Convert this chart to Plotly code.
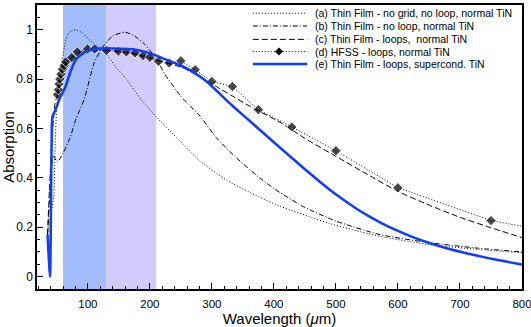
'''
absorption vs wavelength for thin film / HFSS models
'''
import plotly.graph_objects as go

# shaded bands (um)
band_blue = [60, 130]
band_purple = [130, 210]

# (a) thin film - no grid, no loop, normal TiN
wl_a = [35, 40, 45, 47, 49.5, 51, 56.5, 64.5, 70, 80, 91, 105, 118, 130, 145, 162,
        185, 211, 243, 280, 324, 370, 410, 490, 571, 650, 730, 800]
abs_a = [0.17, 0.25, 0.32, 0.5, 0.68, 0.72, 0.838, 0.96, 0.99, 1.0, 0.987, 0.953, 0.93, 0.9, 0.85, 0.8,
         0.72, 0.645, 0.563, 0.47, 0.39, 0.33, 0.285, 0.215, 0.163, 0.13, 0.11, 0.097]

# (b) thin film - no loop, normal TiN
wl_b = [35, 38, 41, 44, 47, 51, 60, 71, 81, 94, 110, 124, 140, 160, 175, 192, 211, 224,
        250, 281, 307, 340, 377, 410, 450, 500, 571, 652, 730, 800]
abs_b = [0.17, 0.3, 0.42, 0.49, 0.48, 0.463, 0.5, 0.56, 0.64, 0.717, 0.865, 0.93, 0.975, 0.99, 0.975, 0.94, 0.88, 0.82,
         0.73, 0.65, 0.563, 0.48, 0.4, 0.34, 0.28, 0.225, 0.17, 0.137, 0.115, 0.1]

# (c) thin film - loops, normal TiN
wl_c = [35, 38, 41, 44, 47, 51, 55, 60, 65, 75, 85, 100, 120, 140, 160, 180, 200, 220,
        253, 280, 307, 334, 361, 410, 450, 500, 550, 600, 650, 700, 750, 800]
abs_c = [0.17, 0.35, 0.5, 0.62, 0.7, 0.74, 0.79, 0.84, 0.866, 0.89, 0.905, 0.915, 0.918, 0.915, 0.908, 0.898, 0.885, 0.87,
         0.846, 0.81, 0.77, 0.73, 0.69, 0.625, 0.56, 0.487, 0.415, 0.345, 0.29, 0.24, 0.198, 0.158]

# (d) HFSS - loops, normal TiN
wl_d = [51, 52.5, 53.5, 54.8, 56.5, 59, 61.8, 64.5, 74, 83, 99.5, 111, 130, 149, 162, 176, 189, 200,
        214, 231, 250, 273, 300, 333, 375, 429, 500, 600, 750, 800]
abs_d = [0.737, 0.757, 0.78, 0.8, 0.82, 0.84, 0.855, 0.87, 0.887, 0.91, 0.922, 0.922, 0.916, 0.913, 0.91, 0.906, 0.895, 0.888,
         0.872, 0.865, 0.874, 0.838, 0.79, 0.77, 0.676, 0.606, 0.51, 0.36, 0.227, 0.204]

# (e) thin film - loops, superconducting TiN
wl_e = [35, 39, 42, 43, 48, 54, 64, 72, 81, 97, 113, 130, 150, 175, 200, 220, 250, 265,
        289, 334, 377, 410, 450, 490, 511, 530, 550, 571, 600, 624, 652, 680, 710, 740, 770, 800]
abs_e = [0.17, 0.0, 0.62, 0.65, 0.676, 0.717, 0.77, 0.83, 0.88, 0.912, 0.922, 0.925, 0.923, 0.92, 0.905, 0.885, 0.855, 0.835,
         0.795, 0.69, 0.595, 0.522, 0.435, 0.352, 0.313, 0.28, 0.249, 0.22, 0.185, 0.16, 0.135, 0.114, 0.095, 0.078, 0.063, 0.049]

labels = ['(a) Thin Film - no grid, no loop, normal TiN',
          '(b) Thin Film - no loop, normal TiN',
          '(c) Thin Film - loops,  normal TiN',
          '(d) HFSS - loops, normal TiN',
          '(e) Thin Film - loops, supercond. TiN']

styles = [dict(color='black', width=1, dash='1px,2px'),
          dict(color='black', width=1, dash='5px,2px,1px,2px'),
          dict(color='black', width=1, dash='6px,3px'),
          dict(color='black', width=1, dash='1px,2px'),
          dict(color='#0f3cff', width=2.5)]

fig = go.Figure()
for wl, ab, style in [(wl_a, abs_a, styles[0]), (wl_b, abs_b, styles[1]), (wl_c, abs_c, styles[2])]:
    fig.add_trace(go.Scatter(x=wl, y=ab, mode='lines', line=dict(shape='spline', smoothing=0.5, **style)))
#last HFSS point only carries the line to the edge
marker_sizes = [8] * (len(wl_d) - 1) + [0]
fig.add_trace(go.Scatter(x=wl_d, y=abs_d, mode='lines+markers', line=styles[3],
                         marker=dict(symbol='diamond', size=marker_sizes, color='black')))
fig.add_trace(go.Scatter(x=wl_e, y=abs_e, mode='lines',
                         line=dict(shape='spline', smoothing=0.5, **styles[4])))

#wavelength bands
fig.add_shape(type='rect', xref='x', yref='paper', x0=band_blue[0], x1=band_blue[1], y0=0, y1=1,
              fillcolor='#a3bdfc', line_width=0, layer='below')
fig.add_shape(type='rect', xref='x', yref='paper', x0=band_purple[0], x1=band_purple[1], y0=0, y1=1,
              fillcolor='#d2ccfc', line_width=0, layer='below')

#hand made legend (tighter rows than plotly's own)
row_y = [0.971, 0.926, 0.879, 0.836, 0.792]
for i, label in enumerate(labels):
    fig.add_shape(type='line', xref='paper', yref='paper', x0=0.445, x1=0.557, y0=row_y[i], y1=row_y[i],
                  line=styles[i])
    fig.add_annotation(xref='paper', yref='paper', x=0.569, y=row_y[i], xanchor='left', yanchor='middle',
                       text=label, showarrow=False, font=dict(size=10.5, color='black'))
fig.add_shape(type='path', xref='paper', yref='paper', xsizemode='pixel', ysizemode='pixel',
              xanchor=0.499, yanchor=row_y[3], path='M 0 4 L 4 0 L 0 -4 L -4 0 Z',
              fillcolor='black', line_width=0)

axis_style = dict(showline=True, linecolor='black', linewidth=1.5, mirror=True, automargin=False,
                  ticks='inside', ticklen=6, tickcolor='black', tickwidth=1, ticklabeloverflow='allow',
                  showgrid=False, zeroline=False)
fig.update_xaxes(range=[18, 800], tickvals=[100, 200, 300, 400, 500, 600, 700, 800], ticklabelstandoff=3,
                 tickfont=dict(size=11.5, color='black'),
                 minor=dict(dtick=20, ticklen=3, ticks='inside', tickcolor='black'),
                 title=dict(text='Wavelength (<i>μ</i>m)', font=dict(size=15, color='black'), standoff=0),
                 **axis_style)
fig.update_yaxes(range=[-0.05, 1.1], tickvals=[0, 0.2, 0.4, 0.6, 0.8, 1],
                 ticktext=['0', '0.2', '0.4', '0.6', '0.8', '1'], tickfont=dict(size=12, color='black'),
                 minor=dict(dtick=0.05, ticklen=3, ticks='inside', tickcolor='black'),
                 title=dict(text='Absorption', font=dict(size=15, color='black'), standoff=6),
                 **axis_style)
fig.update_layout(width=531, height=327, margin=dict(l=37, r=9, t=5, b=38),
                  plot_bgcolor='white', paper_bgcolor='white', showlegend=False,
                  font=dict(family='Liberation Sans, Arial, sans-serif', color='black'))
#drop the default page margin so the figure fills the window, and hide the modebar
fig.write_html('out.html', config={'displayModeBar': False},
               post_script="document.body.style.margin='0';")
